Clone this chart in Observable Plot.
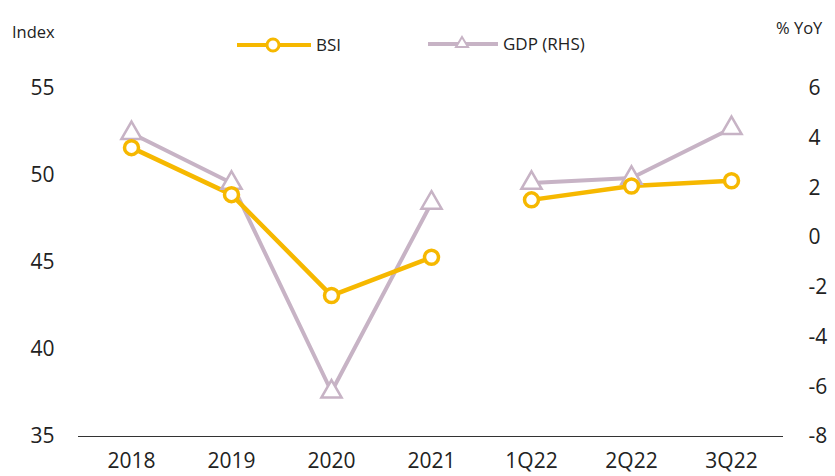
<!DOCTYPE html>
<html>
<head>
<meta charset="utf-8">
<script src="https://cdn.jsdelivr.net/npm/d3@7"></script>
<script src="https://cdn.jsdelivr.net/npm/@observablehq/plot@0.6"></script>
<style>
  html, body { margin: 0; padding: 0; background: #fff; overflow: hidden; }
  body { width: 835px; height: 476px; font-family: "Open Sans", "Liberation Sans", sans-serif; color: #222; }
  #head { position: relative; height: 60px; }
  .lbl { position: absolute; font-size: 16.5px; white-space: nowrap; }
  .key { position: absolute; display: flex; align-items: center; font-size: 17px; }
  .key svg { margin-right: 5px; }
</style>
</head>
<body>
<div id="head">
  <div class="lbl" style="left:12px; top:20px;">Index</div>
  <div class="lbl" style="left:776px; top:16px;">% YoY</div>
  <div class="key" style="left:237px; top:33px;">
    <svg width="74" height="22"><line x1="0" x2="74" y1="11" y2="11" stroke="#F6B800" stroke-width="4"/><circle cx="36" cy="11" r="6" fill="#fff" stroke="#F6B800" stroke-width="3"/></svg>BSI
  </div>
  <div class="key" style="left:428px; top:32px;">
    <svg width="70" height="22"><line x1="0" x2="70" y1="11" y2="11" stroke="#C7B3C5" stroke-width="4"/><path d="M34,4 L40,14 L28,14 Z" fill="#fff" stroke="#C7B3C5" stroke-width="2"/></svg>GDP (RHS)
  </div>
</div>
<div id="chart"></div>
<script>
// Periods on the x axis; the series break between 2021 and the quarterly data
const periods = ["2018", "2019", "2020", "2021", "1Q22", "2Q22", "3Q22"];
const segment = [0, 0, 0, 0, 1, 1, 1];
// Business sentiment index (left axis)
const bsi = [51.6, 48.9, 43.1, 45.3, 48.6, 49.4, 49.7];
// Real GDP growth, % YoY (right axis)
const gdp = [4.2, 2.2, -6.2, 1.4, 2.2, 2.4, 4.4];

const leftTicks = [35, 40, 45, 50, 55];
const rightTicks = [-8, -6, -4, -2, 0, 2, 4, 6];

// right axis [-8, 6] mapped onto the left axis [35, 55]
const toLeft = d3.scaleLinear().domain([-8, 6]).range([35, 55]);

const rows = periods.map((p, i) => ({
  period: p, seg: segment[i], bsi: bsi[i], gdp: toLeft(gdp[i])
}));

const gold = "#F6B800";
const lilac = "#C7B3C5";

const chart = Plot.plot({
  width: 835,
  height: 416,
  marginTop: 28,
  marginBottom: 40,
  marginLeft: 78,
  marginRight: 52,
  style: { fontFamily: "'Open Sans', 'Liberation Sans', sans-serif", fontSize: "21px", color: "#222", background: "#fff" },
  x: { type: "point", domain: periods, padding: 0.5, label: null },
  y: { domain: [35, 55], label: null },
  marks: [
    Plot.axisY(leftTicks, { anchor: "left", tickSize: 0, tickPadding: 24, label: null, fontSize: 21 }),
    Plot.axisY(rightTicks.map(v => toLeft(v)), {
      anchor: "right", tickSize: 0, tickPadding: 25, label: null, fontSize: 21,
      textAnchor: "start", tickFormat: v => String(Math.round(toLeft.invert(v)))
    }),
    Plot.axisX({ tickSize: 0, tickPadding: 17, label: null, fontSize: 21 }),
    Plot.ruleY([35], { stroke: "#333", strokeWidth: 1.2 }),
    Plot.line(rows, { x: "period", y: "gdp", z: "seg", stroke: lilac, strokeWidth: 4 }),
    Plot.line(rows, { x: "period", y: "bsi", z: "seg", stroke: gold, strokeWidth: 4.5 }),
    Plot.dot(rows, { x: "period", y: "gdp", symbol: "triangle", r: 7.5, fill: "#fff", stroke: lilac, strokeWidth: 2.5 }),
    Plot.dot(rows, { x: "period", y: "bsi", symbol: "circle", r: 7, fill: "#fff", stroke: gold, strokeWidth: 3.5 })
  ]
});
document.getElementById("chart").appendChild(chart);
</script>
</body>
</html>
